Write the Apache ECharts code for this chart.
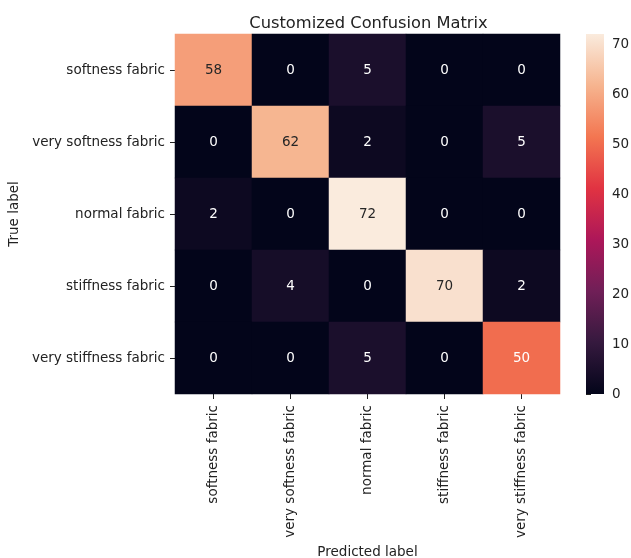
<!DOCTYPE html>
<html>
<head>
<meta charset="utf-8">
<script src="https://cdn.jsdelivr.net/npm/echarts@6/dist/echarts.min.js"></script>
<style>
html,body{margin:0;padding:0;background:#fff;}
#chart{width:631px;height:558px;}
</style>
</head>
<body>
<div id="chart"></div>
<script>
const categories = ["softness fabric", "very softness fabric", "normal fabric", "stiffness fabric", "very stiffness fabric"];
const matrixRows = [
  [58, 0, 5, 0, 0],
  [0, 62, 2, 0, 5],
  [2, 0, 72, 0, 0],
  [0, 4, 0, 70, 2],
  [0, 0, 5, 0, 50]
];
const colorbarTicks = [0, 10, 20, 30, 40, 50, 60, 70];
const colorMin = 0;
const colorMax = 72;
const rocket = ['#03051a', '#35193e', '#701f57', '#ad1759', '#e13342', '#f37651', '#f6b48f', '#faebdd'];

const FONT = 'DejaVu Sans';
const TXT = '#222';

const data = [];
matrixRows.forEach((row, r) => {
  row.forEach((v, c) => {
    data.push({
      value: [c, r, v],
      label: { color: (v - colorMin) / (colorMax - colorMin) > 0.75 ? '#262626' : '#ffffff' }
    });
  });
});

const chart = echarts.init(document.getElementById('chart'), null, { renderer: 'canvas' });
chart.setOption({
  backgroundColor: '#fff',
  animation: false,
  title: {
    text: 'Customized Confusion Matrix',
    left: 363.5, top: 11, textAlign: 'center',
    textStyle: { fontFamily: FONT, fontSize: 16.3, fontWeight: 'normal', color: TXT }
  },
  grid: [
    { left: 175, top: 34, width: 385, height: 360, show: true, backgroundColor: '#03051a', borderWidth: 0, outerBoundsMode: 'none', containLabel: false },
    { left: 586, top: 34, width: 18, height: 360, outerBoundsMode: 'none', containLabel: false }
  ],
  xAxis: [
    {
      type: 'category', gridIndex: 0, data: categories,
      name: 'Predicted label', nameLocation: 'middle', nameGap: 151,
      nameTextStyle: { fontFamily: FONT, fontSize: 13.5, color: TXT },
      axisLine: { show: false },
      axisTick: { show: true, alignWithLabel: true, length: 5, lineStyle: { color: TXT } },
      axisLabel: { rotate: 90, margin: 11, fontFamily: FONT, fontSize: 13.5, color: TXT, interval: 0 },
      splitLine: { show: false }
    },
    { type: 'value', gridIndex: 1, show: false, min: 0, max: 1 }
  ],
  yAxis: [
    {
      type: 'category', gridIndex: 0, data: categories, inverse: true,
      name: 'True label', nameLocation: 'middle', nameGap: 147,
      nameTextStyle: { fontFamily: FONT, fontSize: 13.5, color: TXT },
      axisLine: { show: false },
      axisTick: { show: true, alignWithLabel: true, length: 5, lineStyle: { color: TXT } },
      axisLabel: { margin: 10, fontFamily: FONT, fontSize: 13.5, color: TXT, interval: 0 },
      splitLine: { show: false }
    },
    {
      type: 'value', gridIndex: 1, position: 'right', min: colorMin, max: colorMax, interval: 10,
      axisLine: { show: false },
      axisTick: { show: true, length: 5, lineStyle: { color: TXT } },
      axisLabel: {
        margin: 8, fontFamily: FONT, fontSize: 13.5, color: TXT,
        formatter: v => colorbarTicks.indexOf(v) >= 0 ? String(v) : ''
      },
      splitLine: { show: false }
    }
  ],
  visualMap: {
    type: 'continuous', seriesIndex: 0, min: colorMin, max: colorMax,
    show: false,
    inRange: { color: rocket }
  },
  series: [
    {
      type: 'heatmap', xAxisIndex: 0, yAxisIndex: 0, data: data,
      label: { show: true, fontFamily: FONT, fontSize: 13.5 },
      itemStyle: { borderWidth: 0 },
      emphasis: { disabled: true }
    },
    {
      type: 'custom', xAxisIndex: 1, yAxisIndex: 1, silent: true,
      data: [[0, colorMin, colorMax]],
      renderItem: function (params, api) {
        const p0 = api.coord([0, api.value(1)]);
        const p1 = api.coord([1, api.value(2)]);
        const stops = rocket.map((c, i) => ({ offset: i / (rocket.length - 1), color: c }));
        return {
          type: 'rect',
          shape: { x: p0[0], y: p1[1], width: p1[0] - p0[0], height: p0[1] - p1[1] },
          style: { fill: new echarts.graphic.LinearGradient(0, 1, 0, 0, stops) }
        };
      }
    }
  ]
});
</script>
</body>
</html>
